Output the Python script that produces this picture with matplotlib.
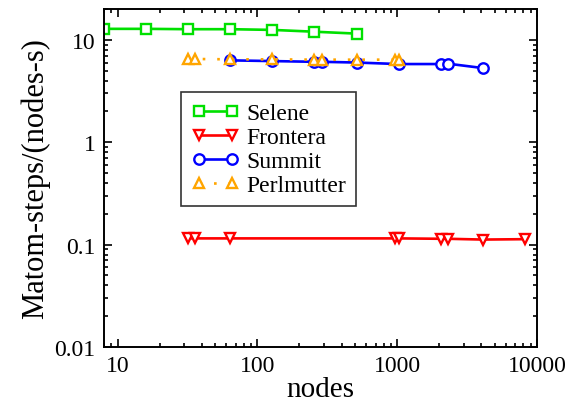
import numpy as np
import matplotlib
matplotlib.use("Agg")
import matplotlib.pyplot as plt

# DATA
selene_nodes = [8, 16, 32, 64, 128, 256, 512]
selene_rate = [12.8, 12.8, 12.7, 12.7, 12.5, 12.0, 11.5]

frontera_nodes = [32, 36, 64, 960, 1024, 2048, 2304, 4096, 8192]
frontera_rate = [0.115, 0.115, 0.115, 0.115, 0.115, 0.114, 0.114, 0.112, 0.113]

summit_nodes = [64, 128, 256, 288, 512, 1024, 2048, 2304, 4096]
summit_rate = [6.3, 6.2, 6.1, 6.1, 6.0, 5.8, 5.8, 5.85, 5.3]

perl_nodes = [32, 36, 64, 128, 256, 288, 512, 960, 1024]
perl_rate = [6.5, 6.5, 6.45, 6.45, 6.4, 6.4, 6.4, 6.4, 6.4]

xticks = [10, 100, 1000, 10000]
xticklabels = ["10", "100", "1000", "10000"]
yticks = [0.01, 0.1, 1, 10]
yticklabels = ["0.01", "0.1", "1", "10"]

plt.rcParams['font.family'] = ['Liberation Serif', 'DejaVu Serif']

fig = plt.figure(figsize=(5.72, 4.06), dpi=100)
ax = fig.add_axes([104/572, 58/406, 433/572, 338/406])

common = dict(markersize=7.5, markeredgewidth=1.7, markerfacecolor='white', lw=1.9)
ax.plot(selene_nodes, selene_rate, color='#00e000', marker='s', label='Selene', **common)
ax.plot(frontera_nodes, frontera_rate, color='red', marker='v', label='Frontera', **common)
ax.plot(summit_nodes, summit_rate, color='blue', marker='o', label='Summit', **common)
ax.plot(perl_nodes, perl_rate, color='orange', marker='^', linestyle=(0, (1, 4.5)),
        label='Perlmutter', **common)

ax.set_xscale('log')
ax.set_yscale('log')
ax.set_xlim(8, 10000)
ax.set_ylim(0.01, 20)
ax.set_xticks(xticks)
ax.set_xticklabels(xticklabels)
ax.set_yticks(yticks)
ax.set_yticklabels(yticklabels)

ax.tick_params(which='both', direction='in', top=True, right=True, width=1.2)
ax.tick_params(which='major', length=6, labelsize=17, pad=6)
ax.tick_params(which='minor', length=3)
for s in ax.spines.values():
    s.set_linewidth(1.4)

ax.set_xlabel('nodes', fontsize=21, labelpad=0)
ax.set_ylabel('Matom-steps/(nodes-s)', fontsize=22, labelpad=3)

leg = ax.legend(loc='upper left', bbox_to_anchor=(181/572, 1 - 93/406),
                bbox_transform=fig.transFigure, fontsize=17, frameon=True,
                fancybox=False, edgecolor='black', handlelength=2.0, numpoints=2,
                borderpad=0.45, labelspacing=0.1, handletextpad=0.3,
                borderaxespad=0)
leg.get_frame().set_linewidth(1.2)

fig.savefig("out.png", dpi=100)
